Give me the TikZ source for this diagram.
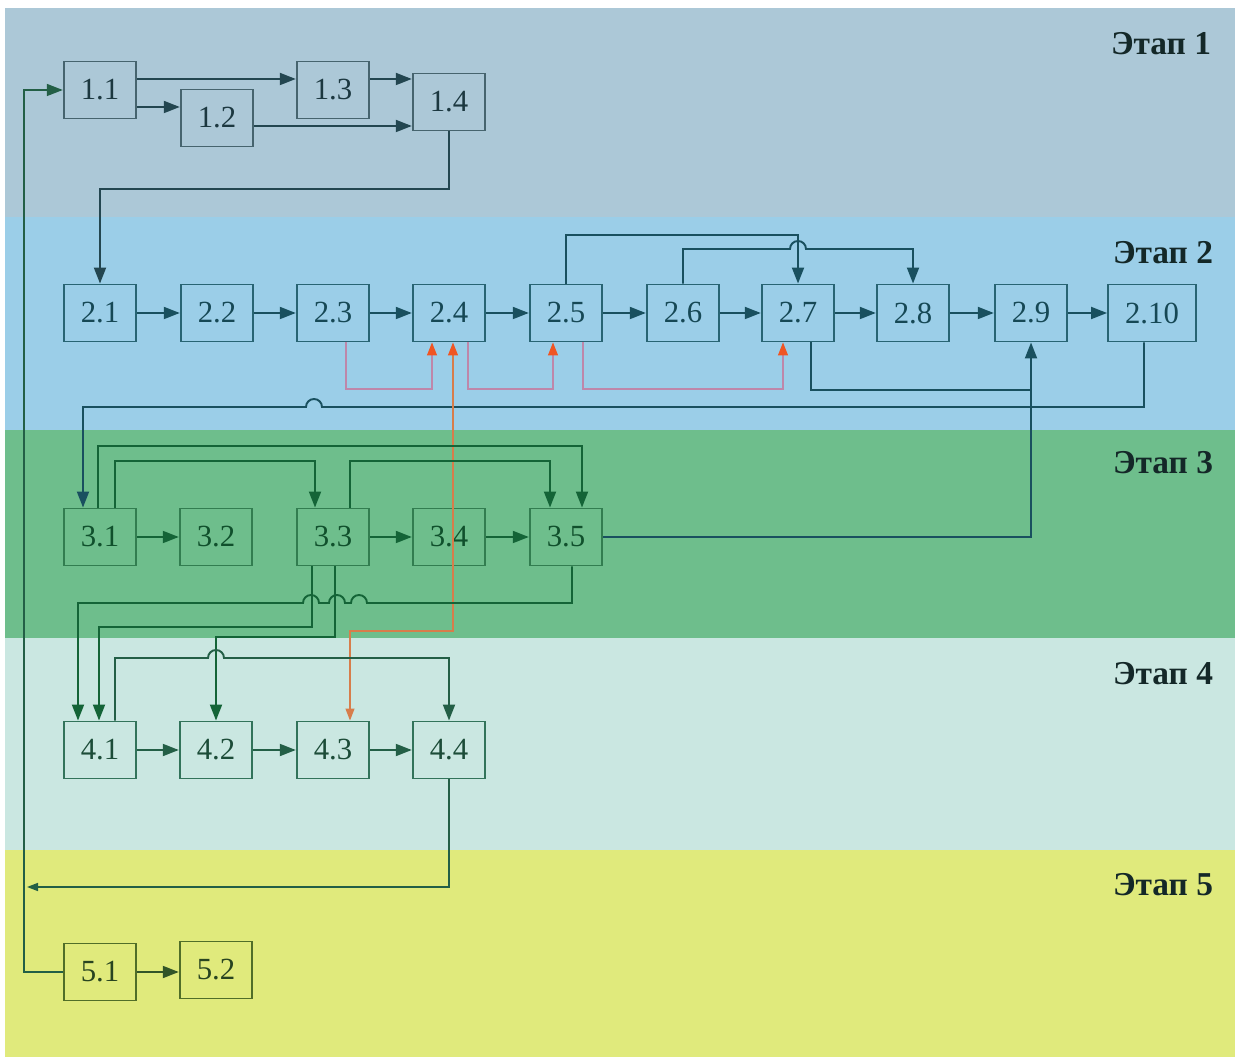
\documentclass[tikz,border=0pt]{standalone}
\usepackage{fontspec}
\setmainfont{Liberation Serif}
\usetikzlibrary{arrows.meta}
\definecolor{bandA}{RGB}{172,200,215}
\definecolor{bandB}{RGB}{155,206,232}
\definecolor{bandC}{RGB}{110,190,140}
\definecolor{bandD}{RGB}{202,231,225}
\definecolor{bandE}{RGB}{224,234,124}
\definecolor{lnA}{RGB}{35,70,80}
\definecolor{lnB}{RGB}{25,80,95}
\definecolor{lnC}{RGB}{20,100,55}
\definecolor{lnD}{RGB}{35,95,70}
\definecolor{lnE}{RGB}{50,85,40}
\definecolor{bxA}{RGB}{70,100,110}
\definecolor{bxB}{RGB}{40,100,115}
\definecolor{bxC}{RGB}{50,125,80}
\definecolor{bxD}{RGB}{50,115,90}
\definecolor{bxE}{RGB}{80,110,40}
\definecolor{pinkln}{RGB}{190,135,170}
\definecolor{redtip}{RGB}{240,85,35}
\definecolor{orln}{RGB}{215,125,75}
\definecolor{lbl}{RGB}{20,40,40}

\begin{document}
\begin{tikzpicture}[x=0.2mm,y=0.2mm]
\tikzstyle{every node}+=[inner sep=0pt]
\tikzstyle{box}=[draw, line width=1.1pt, minimum width=1.45cm, minimum height=1.14cm, font=\fontsize{17.5}{21}\selectfont]
\tikzstyle{boxA}=[box, draw=bxA, text=lnA!80!black]
\tikzstyle{boxB}=[box, draw=bxB, text=lnB!90!black]
\tikzstyle{boxC}=[box, draw=bxC, text=lnC!80!black]
\tikzstyle{boxD}=[box, draw=bxD, text=lnD!80!black]
\tikzstyle{boxE}=[box, draw=bxE, text=lnE!80!black]
\tikzstyle{stage}=[font=\fontsize{19}{23}\selectfont\bfseries, text=lbl]
\tikzstyle{arr}=[line width=1.1pt, -{Triangle[length=3.2mm,width=2.4mm]}]
\tikzstyle{fb}=[pinkln, line width=0.6pt, -{Triangle[length=2.6mm,width=2mm,color=redtip]}]
\useasboundingbox (0,0) rectangle (1240,-1057);
\fill [white] (0,0) rectangle (1240,-1057);
\fill [bandA] (5,-8) rectangle (1235,-217);
\fill [bandB] (5,-217) rectangle (1235,-430);
\fill [bandC] (5,-430) rectangle (1235,-638);
\fill [bandD] (5,-638) rectangle (1235,-850);
\fill [bandE] (5,-850) rectangle (1235,-1057);
\node [stage] (et1) at (1161,-44) {Этап 1};
\node [stage] (et2) at (1163,-253) {Этап 2};
\node [stage] (et3) at (1163,-463) {Этап 3};
\node [stage] (et4) at (1163,-674) {Этап 4};
\node [stage] (et5) at (1163,-885) {Этап 5};
\node [boxA] (n11) at (100,-90) {1.1};
\node [boxA] (n12) at (217,-118) {1.2};
\node [boxA] (n13) at (333,-90) {1.3};
\node [boxA] (n14) at (449,-102) {1.4};
\node [boxB] (n21) at (100,-313) {2.1};
\node [boxB] (n22) at (217,-313) {2.2};
\node [boxB] (n23) at (333,-313) {2.3};
\node [boxB] (n24) at (449,-313) {2.4};
\node [boxB] (n25) at (566,-313) {2.5};
\node [boxB] (n26) at (683,-313) {2.6};
\node [boxB] (n27) at (798,-313) {2.7};
\node [boxB] (n28) at (913,-313) {2.8};
\node [boxB] (n29) at (1031,-313) {2.9};
\node [boxB, minimum width=1.76cm] (n210) at (1152,-313) {2.10};
\node [boxC] (n31) at (100,-537) {3.1};
\node [boxC] (n32) at (216,-537) {3.2};
\node [boxC] (n33) at (333,-537) {3.3};
\node [boxC] (n34) at (449,-537) {3.4};
\node [boxC] (n35) at (566,-537) {3.5};
\node [boxD] (n41) at (100,-750) {4.1};
\node [boxD] (n42) at (216,-750) {4.2};
\node [boxD] (n43) at (333,-750) {4.3};
\node [boxD] (n44) at (449,-750) {4.4};
\node [boxE] (n51) at (100,-972) {5.1};
\node [boxE] (n52) at (216,-970) {5.2};
\coordinate (ret) at (27,-887);
\draw [arr, lnA] (n11.east |- 0,-79) -- (n13.west |- 0,-79);
\draw [arr, lnA] (n11.east |- 0,-107) -- (n12.west |- 0,-107);
\draw [arr, lnA] (n13.east |- 0,-79) -- (n14.west |- 0,-79);
\draw [arr, lnA] (n12.east |- 0,-126) -- (n14.west |- 0,-126);
\draw [arr, lnA] (n14.south) -- (n14.south |- 0,-189) -| (n21.north);
\foreach \a/\b in {n21/n22,n22/n23,n23/n24,n24/n25,n25/n26,n26/n27,n27/n28,n28/n29,n29/n210}
  \draw [arr, lnB] (\a) -- (\b);
\draw [arr, lnB] (n25.north) |- (n27.north |- 0,-235) -- (n27.north);
\draw [arr, lnB] (n26.north) |- (790,-249) arc (180:0:8) -| (n28.north);
\draw [fb] (n23.south -| 346,0) |- (432,-389) -- (n24.south -| 432,0);
\draw [fb] (n24.south -| 468,0) |- (553,-389) -- (n25.south -| 553,0);
\draw [fb] (n25.south -| 583,0) |- (783,-389) -- (n27.south -| 783,0);
\draw [lnB, line width=1.1pt] (n27.south -| 811,0) |- (n29.south |- 0,-390);
\draw [arr, lnB] (n35.east) -| (n29.south);
\draw [arr, lnB] (n210.south -| 1144,0) |- (322,-407) arc (0:180:8) -| (n31.north -| 83,0);
\draw [orln, line width=0.7pt, {Triangle[length=2.6mm,width=2mm,color=redtip]}-{Triangle[length=2.4mm,width=1.8mm,color=orln]}] (n24.south -| 453,0) |- (350,-631) -- (n43.north -| 350,0);
\draw [arr, lnC] (n31.north -| 98,0) |- (582,-446) -- (n35.north -| 582,0);
\draw [arr, lnC] (n31.north -| 115,0) |- (315,-461) -- (n33.north -| 315,0);
\draw [arr, lnC] (n33.north -| 350,0) |- (550,-461) -- (n35.north -| 550,0);
\foreach \a/\b in {n31/n32,n33/n34,n34/n35}
  \draw [arr, lnC] (\a) -- (\b);
\draw [arr, lnC] (n35.south -| 572,0) |- (367,-603) arc (0:180:8) -- (345,-603) arc (0:180:8) -- (319,-603) arc (0:180:8) -| (n41.north -| 78,0);
\draw [arr, lnC] (n33.south -| 312,0) |- (99,-627) -- (n41.north -| 99,0);
\draw [arr, lnC] (n33.south -| 335,0) |- (n42.north |- 0,-637) -- (n42.north);
\draw [arr, lnD] (n41.north -| 115,0) |- (208,-658) arc (180:0:8) -| (n44.north);
\foreach \a/\b in {n41/n42,n42/n43,n43/n44}
  \draw [arr, lnD] (\a) -- (\b);
\draw [lnD, line width=0.9pt, -{Triangle[length=2.2mm,width=1.6mm]}] (n44.south) |- (ret);
\draw [arr, lnD, line width=0.9pt] (n51.west) -- (24,-972) |- (n11.west);
\draw [arr, lnE] (n51) -- (n52.west |- n51);
\end{tikzpicture}
\end{document}
